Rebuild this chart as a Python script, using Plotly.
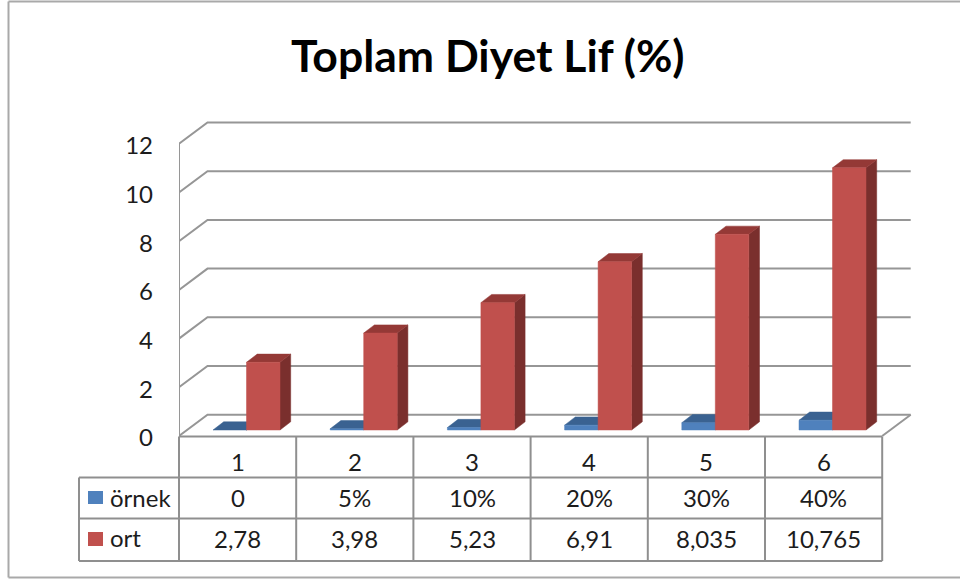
import plotly.graph_objects as go

# Chart data
categories = ["1", "2", "3", "4", "5", "6"]
ornek_values = [0, 0.05, 0.1, 0.2, 0.3, 0.4]
ort_values = [2.78, 3.98, 5.23, 6.91, 8.035, 10.765]
ornek_labels = ["0", "5%", "10%", "20%", "30%", "40%"]
ort_labels = ["2,78", "3,98", "5,23", "6,91", "8,035", "10,765"]
y_ticks = [0, 2, 4, 6, 8, 10, 12]

W, H = 960, 579
X0_PX, CAT_PX = 179.0, 117.2     # left wall position and category width
Y0_PX, UNIT_PX = 436.0, 24.35    # front floor edge and pixels per value unit

# 3D projection offsets, in axis units
WALL_DX, WALL_DY = 28.5 / CAT_PX, 21.3 / UNIT_PX
BAR_DX, BAR_DY = 10.7 / CAT_PX, 8.2 / UNIT_PX
BAR_BASE = 6.0 / UNIT_PX
BLUE_X, RED_X, RED_END = 34.0 / CAT_PX, 67.5 / CAT_PX, 101.0 / CAT_PX

GRID = "#969696"
FRAME = "#a9a9a9"
TABLE = "#8f8f8f"
TEXT = "#1c1c1c"
FONT = "Lato"
CELL_SIZE = 24

fig = go.Figure()


def polygon(xs, ys, color):
    fig.add_trace(go.Scatter(
        x=xs, y=ys, mode="lines", fill="toself", fillcolor=color,
        line=dict(width=0.5, color=color), hoverinfo="skip", showlegend=False,
    ))


def column(x0, x1, value, front, side, top):
    """Front, side and top faces of one column."""
    y0, y1 = BAR_BASE, BAR_BASE + value
    polygon([x1, x1 + BAR_DX, x1 + BAR_DX, x1, x1],
            [y0, y0 + BAR_DY, y1 + BAR_DY, y1, y0], side)
    polygon([x0, x0 + BAR_DX, x1 + BAR_DX, x1, x0],
            [y1, y1 + BAR_DY, y1 + BAR_DY, y1, y1], top)
    if value > 0:
        polygon([x0, x1, x1, x0, x0], [y0, y0, y1, y1, y0], front)


# Walls: each gridline runs up the side wall and then along the back wall
n = len(categories)
for v in y_ticks:
    fig.add_trace(go.Scatter(
        x=[0, WALL_DX, n + WALL_DX], y=[v, v + WALL_DY, v + WALL_DY],
        mode="lines", line=dict(color=GRID, width=2),
        hoverinfo="skip", showlegend=False,
    ))
fig.add_trace(go.Scatter(
    x=[0, 0], y=[y_ticks[0], y_ticks[-1]], mode="lines",
    line=dict(color=GRID, width=2), hoverinfo="skip", showlegend=False,
))
fig.add_trace(go.Scatter(
    x=[n, n + WALL_DX], y=[0, WALL_DY], mode="lines",
    line=dict(color=GRID, width=2), hoverinfo="skip", showlegend=False,
))

# Columns
for i in range(n):
    column(i + BLUE_X, i + RED_X, ornek_values[i], "#4F81BD", "#2F5583", "#3A6291")
    column(i + RED_X, i + RED_END, ort_values[i], "#C0504D", "#7A2F2D", "#943936")


def px(x):
    return x / W


def py(y):
    return 1 - y / H


def rule(x0, y0, x1, y1, color=TABLE, width=2):
    fig.add_shape(type="line", xref="paper", yref="paper",
                  x0=px(x0), y0=py(y0), x1=px(x1), y1=py(y1),
                  line=dict(color=color, width=width), layer="above")


# Outer chart frame, running off the right edge
rule(8.5, 1.5, 960, 1.5, FRAME)
rule(8.5, 1.5, 8.5, 577.5, FRAME)
rule(8.5, 577.5, 960, 577.5, FRAME)

# Data table grid
TABLE_ROWS = [436.5, 477.5, 518.5, 561.0]
LABEL_LEFT = 79.0
TABLE_RIGHT = X0_PX + n * CAT_PX
rule(X0_PX, TABLE_ROWS[0], TABLE_RIGHT, TABLE_ROWS[0])
for row in TABLE_ROWS[1:]:
    rule(LABEL_LEFT, row, TABLE_RIGHT, row)
rule(LABEL_LEFT, TABLE_ROWS[1], LABEL_LEFT, TABLE_ROWS[3])
for i in range(n + 1):
    x = X0_PX + i * CAT_PX
    rule(x, TABLE_ROWS[0], x, TABLE_ROWS[3])


def label(x, y, text, size=CELL_SIZE, anchor="center", bold=False, color=TEXT):
    fig.add_annotation(
        xref="paper", yref="paper", x=px(x), y=py(y), text=f"<b>{text}</b>" if bold else text,
        showarrow=False, xanchor=anchor, yanchor="middle",
        font=dict(family=FONT, size=size, color=color),
    )


# Table cells
for i in range(n):
    cx = X0_PX + (i + 0.5) * CAT_PX
    label(cx, 461.5, categories[i])
    label(cx, 497, ornek_labels[i])
    label(cx, 538.5, ort_labels[i])

# Series keys in the table's first column
for y0, y1, color, name, ty in [(491, 504, "#4F81BD", "örnek", 497),
                                (532, 546, "#C0504D", "ort", 537.5)]:
    fig.add_shape(type="rect", xref="paper", yref="paper",
                  x0=px(88), x1=px(103), y0=py(y1), y1=py(y0),
                  fillcolor=color, line=dict(width=0), layer="above")
    label(108, ty, name, anchor="left")

label(487.5, 54, "Toplam Diyet Lif (%)", size=44.5, bold=True, color="#000000")

fig.update_layout(
    width=W, height=H, margin=dict(l=0, r=0, t=0, b=0),
    paper_bgcolor="white", plot_bgcolor="white", showlegend=False,
    xaxis=dict(domain=[X0_PX / W, 1], range=[0, (W - X0_PX) / CAT_PX],
               visible=False, fixedrange=True),
    yaxis=dict(domain=[0, 1], range=[(Y0_PX - H) / UNIT_PX, Y0_PX / UNIT_PX],
               tickmode="array", tickvals=y_ticks, ticktext=[str(v) for v in y_ticks],
               showgrid=False, zeroline=False, showline=False, ticks="",
               ticklabelstandoff=25, ticklabelshift=2, fixedrange=True,
               tickfont=dict(family=FONT, size=CELL_SIZE, color=TEXT)),
)

fig.write_html("out.html", config={"displayModeBar": False})
